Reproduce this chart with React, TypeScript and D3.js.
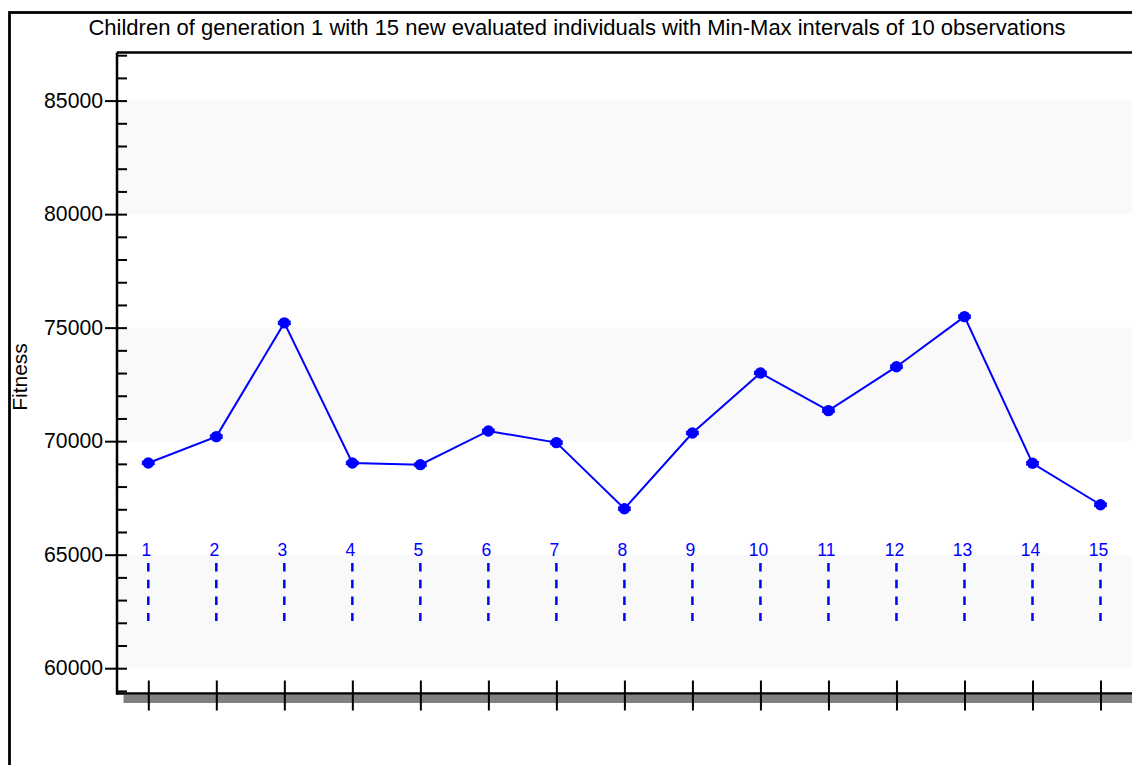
import * as d3 from "d3";
import { useEffect, useRef } from "react";

const TITLE =
  "Children of generation 1 with 15 new evaluated individuals with Min-Max intervals of 10 observations";
const Y_LABEL = "Fitness";

const CHILDREN = [1, 2, 3, 4, 5, 6, 7, 8, 9, 10, 11, 12, 13, 14, 15];
const FITNESS = [
  69040, 70200, 75210, 69040, 68965, 70450, 69935, 67025, 70360, 73005, 71345, 73280, 75485,
  69025, 67200,
];
const FITNESS_MIN = [
  68990, 70150, 75160, 68990, 68915, 70400, 69885, 66975, 70310, 72955, 71295, 73230, 75435,
  68975, 67150,
];
const FITNESS_MAX = [
  69090, 70250, 75260, 69090, 69015, 70500, 69985, 67075, 70410, 73055, 71395, 73330, 75535,
  69075, 67250,
];

const Y_TICKS = [60000, 65000, 70000, 75000, 80000, 85000];
const Y_MINOR = d3.range(59000, 87001, 1000);
const BANDS: [number, number][] = [
  [80000, 85000],
  [70000, 75000],
  [60000, 65000],
];

export default function App() {
  const ref = useRef<SVGSVGElement | null>(null);

  useEffect(() => {
    const svg = d3.select(ref.current);
    svg.selectAll("*").remove();

    const width = 1132;
    const height = 765;
    const axisX = 117;
    const topY = 52.5;
    const baseY = 693.5;
    const font = "Liberation Sans, Arial, sans-serif";
    const blue = "#0000ff";

    const x = d3.scaleLinear().domain([1, 15]).range([148.3, 1100.5]);
    const y = d3.scaleLinear().domain([60000, 85000]).range([668.2, 100.6]);

    svg.attr("width", width).attr("height", height).attr("viewBox", `0 0 ${width} ${height}`);

    svg.append("rect").attr("width", width).attr("height", height).attr("fill", "#fff");

    // outer frame
    svg
      .append("rect")
      .attr("x", 9.5)
      .attr("y", 12.5)
      .attr("width", 1300)
      .attr("height", 1000)
      .attr("fill", "none")
      .attr("stroke", "#000")
      .attr("stroke-width", 2.8);

    svg
      .append("text")
      .attr("x", 577)
      .attr("y", 35)
      .attr("text-anchor", "middle")
      .attr("font-family", font)
      .attr("font-size", 22)
      .attr("fill", "#000")
      .text(TITLE);

    // bands
    svg
      .append("g")
      .selectAll("rect")
      .data(BANDS)
      .enter()
      .append("rect")
      .attr("x", axisX + 1)
      .attr("y", (d) => y(d[1]))
      .attr("width", width)
      .attr("height", (d) => y(d[0]) - y(d[1]))
      .attr("fill", "#f9f9f9");

    // plot top border
    svg
      .append("line")
      .attr("x1", axisX)
      .attr("x2", width)
      .attr("y1", topY)
      .attr("y2", topY)
      .attr("stroke", "#000")
      .attr("stroke-width", 2.5);

    // x-axis shadow
    svg
      .append("rect")
      .attr("x", 123.5)
      .attr("y", baseY + 1.5)
      .attr("width", width)
      .attr("height", 8)
      .attr("fill", "#808080");

    // y axis
    svg
      .append("line")
      .attr("x1", axisX)
      .attr("x2", axisX)
      .attr("y1", topY)
      .attr("y2", baseY + 1)
      .attr("stroke", "#000")
      .attr("stroke-width", 2.5);

    const yMajor = svg
      .append("g")
      .attr("transform", `translate(${axisX},0)`)
      .call(d3.axisLeft(y).tickValues(Y_TICKS).tickSize(12).tickPadding(2).tickFormat(d3.format("d")));
    yMajor.select(".domain").remove();
    yMajor.selectAll("line").attr("stroke", "#000").attr("stroke-width", 2);
    yMajor
      .selectAll("text")
      .attr("font-family", font)
      .attr("font-size", 21.2)
      .attr("fill", "#000");

    const yMinor = svg
      .append("g")
      .attr("transform", `translate(${axisX},0)`)
      .call(d3.axisRight(y).tickValues(Y_MINOR).tickSize(10).tickFormat(() => ""));
    yMinor.select(".domain").remove();
    yMinor.selectAll("line").attr("stroke", "#000").attr("stroke-width", 2);

    svg
      .append("text")
      .attr("transform", `translate(27,377) rotate(-90)`)
      .attr("text-anchor", "middle")
      .attr("font-family", font)
      .attr("font-size", 21)
      .attr("fill", "#000")
      .text(Y_LABEL);

    // x axis
    svg
      .append("line")
      .attr("x1", axisX - 1)
      .attr("x2", width)
      .attr("y1", baseY)
      .attr("y2", baseY)
      .attr("stroke", "#000")
      .attr("stroke-width", 2.5);

    const xDown = svg
      .append("g")
      .attr("transform", `translate(0,${baseY})`)
      .call(d3.axisBottom(x).tickValues(CHILDREN).tickSize(17).tickFormat(() => ""));
    xDown.select(".domain").remove();
    xDown.selectAll("line").attr("stroke", "#000").attr("stroke-width", 2);
    const xUp = svg
      .append("g")
      .attr("transform", `translate(0,${baseY})`)
      .call(d3.axisTop(x).tickValues(CHILDREN).tickSize(13).tickFormat(() => ""));
    xUp.select(".domain").remove();
    xUp.selectAll("line").attr("stroke", "#000").attr("stroke-width", 2);

    // child labels and dashed markers
    svg
      .append("g")
      .selectAll("text")
      .data(CHILDREN)
      .enter()
      .append("text")
      .attr("x", (d) => x(d) - 2)
      .attr("y", 555.5)
      .attr("text-anchor", "middle")
      .attr("font-family", font)
      .attr("font-size", 17.5)
      .attr("fill", blue)
      .text((d) => String(d));

    svg
      .append("g")
      .selectAll("line")
      .data(CHILDREN)
      .enter()
      .append("line")
      .attr("x1", (d) => x(d))
      .attr("x2", (d) => x(d))
      .attr("y1", 563)
      .attr("y2", 621)
      .attr("stroke", blue)
      .attr("stroke-width", 2.5)
      .attr("stroke-dasharray", "8.5,8.2");

    // series
    const line = d3
      .line<number>()
      .x((_, i) => x(CHILDREN[i]))
      .y((d) => y(d));

    svg
      .append("path")
      .attr("d", line(FITNESS) ?? "")
      .attr("fill", "none")
      .attr("stroke", blue)
      .attr("stroke-width", 2);

    const bars = svg.append("g").selectAll("g").data(CHILDREN).enter().append("g");
    bars
      .append("line")
      .attr("x1", (d) => x(d))
      .attr("x2", (d) => x(d))
      .attr("y1", (_, i) => y(FITNESS_MIN[i]))
      .attr("y2", (_, i) => y(FITNESS_MAX[i]))
      .attr("stroke", blue)
      .attr("stroke-width", 2);
    [FITNESS_MIN, FITNESS_MAX].forEach((arr) => {
      bars
        .append("line")
        .attr("x1", (d) => x(d) - 6.5)
        .attr("x2", (d) => x(d) + 6.5)
        .attr("y1", (_, i) => y(arr[i]))
        .attr("y2", (_, i) => y(arr[i]))
        .attr("stroke", blue)
        .attr("stroke-width", 2);
    });

    svg
      .append("g")
      .selectAll("circle")
      .data(FITNESS)
      .enter()
      .append("circle")
      .attr("cx", (_, i) => x(CHILDREN[i]))
      .attr("cy", (d) => y(d))
      .attr("r", 5.7)
      .attr("fill", blue);
  }, []);

  return (
    <svg
      ref={ref}
      style={{ position: "absolute", left: 0, top: 0, display: "block", overflow: "hidden" }}
    />
  );
}
